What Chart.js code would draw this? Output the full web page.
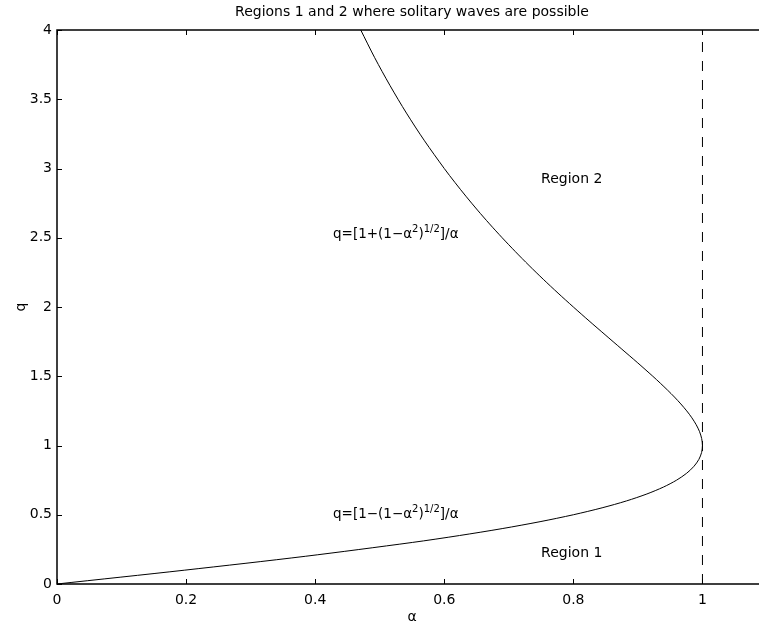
<!DOCTYPE html>
<html>
<head>
<meta charset="utf-8">
<script src="https://cdn.jsdelivr.net/npm/chart.js@4.4.1/dist/chart.umd.min.js"></script>
<style>
  html, body { margin: 0; padding: 0; background: #fff; overflow: hidden; }
  #wrap { width: 767px; height: 624px; }
</style>
</head>
<body>
<div id="wrap"><canvas id="regionChart"></canvas></div>
<script>
// boundary curve (alpha, q)
const alphaValues = [0, 0.198, 0.3846, 0.5505, 0.6236, 0.6897, 0.7484, 0.8, 0.8445, 0.8824, 0.9139,
  0.9396, 0.96, 0.9756, 0.9869, 0.9945, 0.9987,
  1, 0.9988, 0.9955, 0.9903, 0.9836, 0.9756, 0.9665, 0.9566, 0.9459, 0.9347, 0.9231,
  0.8989, 0.874, 0.8491, 0.8243, 0.8,
  0.7763, 0.7534, 0.7313, 0.7101, 0.6897, 0.6701, 0.6514, 0.6335, 0.6164, 0.6,
  0.5694, 0.5414, 0.5158, 0.4922, 0.4706];
const qValues = [0, 0.1, 0.2, 0.3, 0.35, 0.4, 0.45, 0.5, 0.55, 0.6, 0.65,
  0.7, 0.75, 0.8, 0.85, 0.9, 0.95,
  1, 1.05, 1.1, 1.15, 1.2, 1.25, 1.3, 1.35, 1.4, 1.45, 1.5,
  1.6, 1.7, 1.8, 1.9, 2.0,
  2.1, 2.2, 2.3, 2.4, 2.5, 2.6, 2.7, 2.8, 2.9, 3.0,
  3.2, 3.4, 3.6, 3.8, 4.0];

// dashed limit alpha = 1
const limitAlpha = [1, 1];
const limitQ = [0, 4];

const xTicks = [0, 0.2, 0.4, 0.6, 0.8, 1];
const yTicks = [0, 0.5, 1, 1.5, 2, 2.5, 3, 3.5, 4];

const titleText = "Regions 1 and 2 where solitary waves are possible";
const regionLabels = [
  { text: "Region 2", x: 0.75, y: 2.92 },
  { text: "Region 1", x: 0.75, y: 0.22 }
];
const formulaLabels = [
  { sign: "+", x: 0.4276, y: 2.5 },
  { sign: "\u2212", x: 0.4276, y: 0.477 }
];

const FONT = "'DejaVu Sans', 'Liberation Sans', Arial, sans-serif";

const toPoints = (xs, ys) => xs.map((x, i) => ({ x: x, y: ys[i] }));

const decorPlugin = {
  id: "decor",
  afterDraw(chart) {
    const ctx = chart.ctx;
    const area = chart.chartArea;
    const xs = chart.scales.x;
    const ys = chart.scales.y;
    ctx.save();

    // frame (right side falls outside the window, as in the original crop)
    ctx.strokeStyle = "#000";
    ctx.lineWidth = 1.5;
    ctx.beginPath();
    ctx.moveTo(area.right, area.top);
    ctx.lineTo(area.left, area.top);
    ctx.lineTo(area.left, area.bottom);
    ctx.lineTo(area.right, area.bottom);
    ctx.stroke();

    // inward tick marks
    ctx.lineWidth = 1;
    const tl = 5;
    ctx.beginPath();
    xs.ticks.forEach((t) => {
      const px = Math.round(xs.getPixelForValue(t.value)) + 0.5;
      ctx.moveTo(px, area.bottom); ctx.lineTo(px, area.bottom - tl);
      ctx.moveTo(px, area.top); ctx.lineTo(px, area.top + tl);
    });
    ys.ticks.forEach((t) => {
      const py = Math.round(ys.getPixelForValue(t.value)) + 0.5;
      ctx.moveTo(area.left, py); ctx.lineTo(area.left + tl, py);
    });
    ctx.stroke();

    ctx.fillStyle = "#000";
    const midX = (area.left + area.right) / 2;

    // title
    ctx.font = "14px " + FONT;
    ctx.textAlign = "center";
    ctx.textBaseline = "middle";
    ctx.fillText(titleText, midX, 12);

    // axis labels
    ctx.font = "14px " + FONT;
    ctx.textBaseline = "alphabetic";
    ctx.fillText("\u03b1", midX, 621);
    ctx.save();
    ctx.translate(25, (area.top + area.bottom) / 2);
    ctx.rotate(-Math.PI / 2);
    ctx.fillText("q", 0, 0);
    ctx.restore();

    // region labels
    ctx.textAlign = "left";
    ctx.textBaseline = "middle";
    regionLabels.forEach((r) => {
      ctx.fillText(r.text, xs.getPixelForValue(r.x), ys.getPixelForValue(r.y));
    });

    // formulas with superscripts
    const mainFont = "13.5px " + FONT;
    const supFont = "10px " + FONT;
    formulaLabels.forEach((f) => {
      let px = xs.getPixelForValue(f.x);
      const base = ys.getPixelForValue(f.y);
      const parts = [
        { t: "q=[1" + f.sign + "(1\u2212\u03b1", sup: false },
        { t: "2", sup: true },
        { t: ")", sup: false },
        { t: "1/2", sup: true },
        { t: "]/\u03b1", sup: false }
      ];
      ctx.textBaseline = "alphabetic";
      parts.forEach((p) => {
        ctx.font = p.sup ? supFont : mainFont;
        ctx.fillText(p.t, px, p.sup ? base - 6 : base);
        px += ctx.measureText(p.t).width;
      });
    });

    ctx.restore();
  }
};

new Chart(document.getElementById("regionChart"), {
  type: "scatter",
  data: {
    datasets: [
      {
        data: toPoints(alphaValues, qValues),
        showLine: true,
        borderColor: "#000",
        borderWidth: 1,
        pointRadius: 0,
        tension: 0.3
      },
      {
        data: toPoints(limitAlpha, limitQ),
        showLine: true,
        borderColor: "#000",
        borderWidth: 1,
        borderDash: [10, 9],
        pointRadius: 0
      }
    ]
  },
  options: {
    responsive: true,
    maintainAspectRatio: false,
    animation: false,
    layout: { padding: { top: 30, left: 0, right: 0, bottom: 0 } },
    plugins: { legend: { display: false }, tooltip: { enabled: false }, title: { display: false } },
    scales: {
      x: {
        type: "linear",
        min: 0,
        max: 1.1,
        afterFit: (s) => { s.height = 40; },
        afterBuildTicks: (s) => { s.ticks = xTicks.map((v) => ({ value: v })); },
        grid: { display: false, drawTicks: false },
        border: { display: false },
        ticks: { padding: 8, color: "#000", font: { family: FONT, size: 14 }, callback: (v) => String(v) }
      },
      y: {
        type: "linear",
        min: 0,
        max: 4,
        afterFit: (s) => { s.width = 57; },
        afterBuildTicks: (s) => { s.ticks = yTicks.map((v) => ({ value: v })); },
        grid: { display: false, drawTicks: false },
        border: { display: false },
        ticks: { padding: 5, color: "#000", font: { family: FONT, size: 14 }, callback: (v) => String(v) }
      }
    }
  },
  plugins: [decorPlugin]
});
</script>
</body>
</html>
